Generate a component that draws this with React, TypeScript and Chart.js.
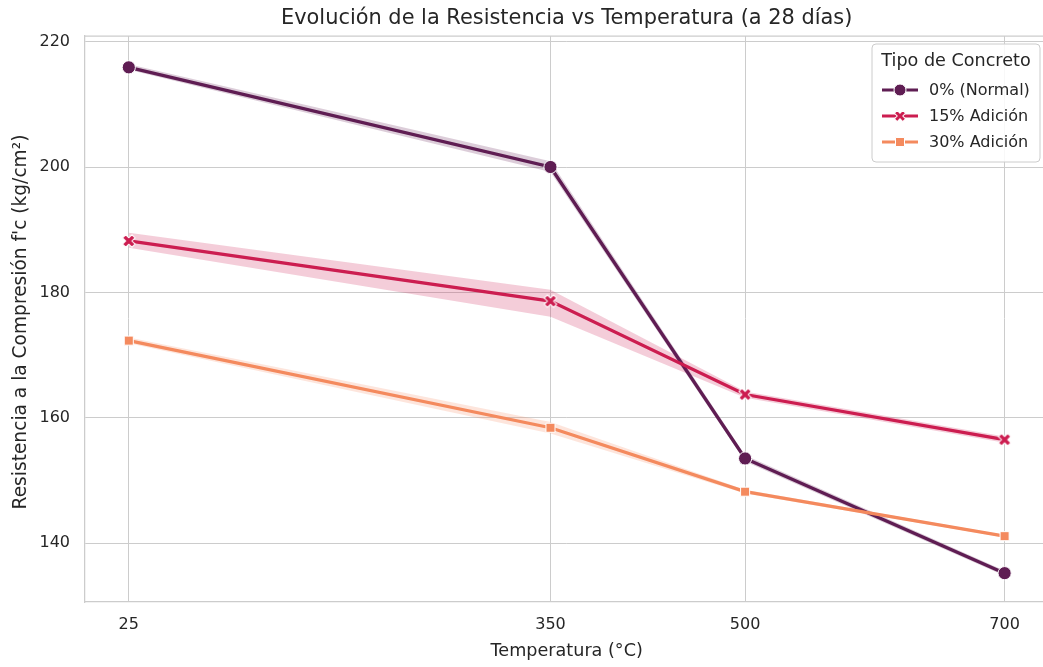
import React, { useEffect, useRef } from "react";
import { Chart, registerables } from "chart.js";

Chart.register(...registerables);

const temps = [25, 350, 500, 700];
const xTicks = [25, 350, 500, 700];
const yTicks = [140, 160, 180, 200, 220];
const seriesNames = ["0% (Normal)", "15% Adición", "30% Adición"];
const seriesColors = ["#5f1d53", "#cc1d50", "#f48a5e"];
const bandColors = ["rgba(95,29,83,0.22)", "rgba(204,29,80,0.22)", "rgba(244,138,94,0.22)"];

const normalMean = [215.9, 200.0, 153.5, 135.2];
const normalLow = [215.5, 199.2, 153.0, 134.8];
const normalHigh = [216.4, 200.9, 154.0, 135.6];

const add15Mean = [188.2, 178.6, 163.7, 156.5];
const add15Low = [187.1, 176.1, 163.2, 156.0];
const add15High = [189.5, 180.4, 164.2, 157.0];

const add30Mean = [172.3, 158.4, 148.2, 141.1];
const add30Low = [171.9, 157.5, 147.9, 140.9];
const add30High = [172.8, 159.3, 148.5, 141.3];

const titleText = "Evolución de la Resistencia vs Temperatura (a 28 días)";
const xLabel = "Temperatura (°C)";
const yLabel = "Resistencia a la Compresión f'c (kg/cm²)";
const legendTitle = "Tipo de Concreto";

const FONT = "'DejaVu Sans', sans-serif";
const TEXT = "#262626";

function toPts(vals: number[]) {
  return temps.map((t, i) => ({ x: t, y: vals[i] }));
}

function makeXMarker(color: string, scale = 1) {
  const c = document.createElement("canvas");
  const size = 18;
  c.width = size;
  c.height = size;
  const ctx = c.getContext("2d")!;
  const a = 6.6 * scale;
  const b = 2.2 * scale;
  const pts = [
    [b, a], [b, b], [a, b], [a, -b], [b, -b], [b, -a],
    [-b, -a], [-b, -b], [-a, -b], [-a, b], [-b, b], [-b, a],
  ];
  ctx.translate(size / 2, size / 2);
  ctx.rotate(Math.PI / 4);
  ctx.beginPath();
  pts.forEach((p, i) => (i === 0 ? ctx.moveTo(p[0], p[1]) : ctx.lineTo(p[0], p[1])));
  ctx.closePath();
  ctx.fillStyle = color;
  ctx.fill();
  ctx.strokeStyle = "#ffffff";
  ctx.lineWidth = 1;
  ctx.stroke();
  return c;
}

export default function App() {
  const ref = useRef<HTMLCanvasElement | null>(null);

  useEffect(() => {
    const canvas = ref.current!;
    const xMark = makeXMarker(seriesColors[1]);
    const xMarkLegend = makeXMarker(seriesColors[1], 0.9);
    const means = [normalMean, add15Mean, add30Mean];
    const lows = [normalLow, add15Low, add30Low];
    const highs = [normalHigh, add15High, add30High];
    const styles: any[] = ["circle", xMark, "rect"];
    const radii = [6.6, 6, 6.4];

    const datasets: any[] = [];
    for (let i = 0; i < 3; i++) {
      const hiIdx = datasets.length;
      datasets.push({
        label: "band-hi-" + i,
        data: toPts(highs[i]),
        borderWidth: 0,
        borderColor: "rgba(0,0,0,0)",
        pointRadius: 0,
        fill: false,
        order: 20,
      });
      datasets.push({
        label: "band-lo-" + i,
        data: toPts(lows[i]),
        borderWidth: 0,
        borderColor: "rgba(0,0,0,0)",
        pointRadius: 0,
        backgroundColor: bandColors[i],
        fill: hiIdx,
        order: 20,
      });
    }
    for (let i = 0; i < 3; i++) {
      datasets.push({
        label: seriesNames[i],
        data: toPts(means[i]),
        borderColor: seriesColors[i],
        backgroundColor: seriesColors[i],
        borderWidth: 3.3,
        pointStyle: styles[i],
        pointRadius: radii[i],
        pointBackgroundColor: seriesColors[i],
        pointBorderColor: "#ffffff",
        pointBorderWidth: 1,
        fill: false,
        tension: 0,
        order: 3 - i,
      });
    }

    const overlay = {
      id: "overlay",
      afterDraw(chart: any) {
        const ctx = chart.ctx;
        const ca = chart.chartArea;
        ctx.save();
        ctx.strokeStyle = "#cccccc";
        ctx.lineWidth = 1.25;
        ctx.beginPath();
        ctx.moveTo(ca.left, ca.top);
        ctx.lineTo(ca.right, ca.top);
        ctx.stroke();

        ctx.fillStyle = TEXT;
        ctx.textAlign = "center";
        ctx.textBaseline = "middle";
        ctx.font = `20.9px ${FONT}`;
        const cx = (ca.left + ca.right) / 2;
        ctx.fillText(titleText, cx, 19);
        ctx.font = `17.6px ${FONT}`;
        ctx.fillText(xLabel, cx, 651);
        ctx.save();
        ctx.translate(21, 322);
        ctx.rotate(-Math.PI / 2);
        ctx.font = `18.6px ${FONT}`;
        ctx.fillText(yLabel, 0, 0);
        ctx.restore();

        const bx = 872, by = 44, bw = 168, bh = 118, r = 4;
        ctx.beginPath();
        ctx.moveTo(bx + r, by);
        ctx.lineTo(bx + bw - r, by);
        ctx.arcTo(bx + bw, by, bx + bw, by + r, r);
        ctx.lineTo(bx + bw, by + bh - r);
        ctx.arcTo(bx + bw, by + bh, bx + bw - r, by + bh, r);
        ctx.lineTo(bx + r, by + bh);
        ctx.arcTo(bx, by + bh, bx, by + bh - r, r);
        ctx.lineTo(bx, by + r);
        ctx.arcTo(bx, by, bx + r, by, r);
        ctx.closePath();
        ctx.fillStyle = "rgba(255,255,255,0.85)";
        ctx.fill();
        ctx.strokeStyle = "#cccccc";
        ctx.lineWidth = 1;
        ctx.stroke();

        ctx.fillStyle = TEXT;
        ctx.font = `17.6px ${FONT}`;
        ctx.textAlign = "center";
        ctx.fillText(legendTitle, bx + bw / 2, 61);
        ctx.font = `16px ${FONT}`;
        ctx.textAlign = "left";
        const rowsY = [90, 116, 142];
        for (let i = 0; i < 3; i++) {
          const y = rowsY[i];
          ctx.strokeStyle = seriesColors[i];
          ctx.lineWidth = 3;
          ctx.beginPath();
          ctx.moveTo(882, y);
          ctx.lineTo(918, y);
          ctx.stroke();
          const mx = 900;
          ctx.fillStyle = seriesColors[i];
          ctx.strokeStyle = "#ffffff";
          ctx.lineWidth = 1;
          if (i === 0) {
            ctx.beginPath();
            ctx.arc(mx, y, 6, 0, Math.PI * 2);
            ctx.fill();
            ctx.stroke();
          } else if (i === 1) {
            ctx.drawImage(xMarkLegend, mx - xMarkLegend.width / 2, y - xMarkLegend.height / 2);
          } else {
            ctx.beginPath();
            ctx.rect(mx - 4.5, y - 4.5, 9, 9);
            ctx.fill();
            ctx.stroke();
          }
          ctx.fillStyle = TEXT;
          ctx.fillText(seriesNames[i], 929, y + 1);
        }
        ctx.restore();
      },
    };

    const chart = new Chart(canvas, {
      type: "line",
      data: { datasets },
      plugins: [overlay],
      options: {
        responsive: false,
        animation: false,
        layout: { padding: { top: 36, left: 0, right: 0, bottom: 0 } },
        plugins: {
          legend: { display: false },
          title: { display: false },
          tooltip: { enabled: false },
        },
        scales: {
          x: {
            type: "linear",
            min: -8.75,
            max: 733.75,
            afterBuildTicks: (s: any) => {
              s.ticks = xTicks.map((v) => ({ value: v }));
            },
            afterFit: (s: any) => {
              s.height = 65;
            },
            grid: { color: "#cccccc", lineWidth: 1, drawTicks: false },
            border: { display: true, color: "#cccccc", width: 1.25 },
            ticks: {
              padding: 13,
              color: TEXT,
              font: { family: FONT, size: 16 },
              maxRotation: 0,
              autoSkip: false,
            },
          },
          y: {
            type: "linear",
            min: 130.6,
            max: 220.9,
            afterBuildTicks: (s: any) => {
              s.ticks = yTicks.map((v) => ({ value: v }));
            },
            afterFit: (s: any) => {
              s.width = 85;
            },
            grid: { color: "#cccccc", lineWidth: 1, drawTicks: false },
            border: { display: true, color: "#cccccc", width: 1.25 },
            ticks: {
              padding: 15,
              color: TEXT,
              font: { family: FONT, size: 16 },
              autoSkip: false,
            },
          },
        },
      } as any,
    });
    return () => chart.destroy();
  }, []);

  return (
    <div
      style={{
        position: "absolute",
        left: 0,
        top: 0,
        width: 1043,
        height: 667,
        overflow: "hidden",
        background: "#ffffff",
      }}
    >
      <canvas ref={ref} width={1056} height={667} style={{ width: 1056, height: 667, display: "block" }} />
    </div>
  );
}
